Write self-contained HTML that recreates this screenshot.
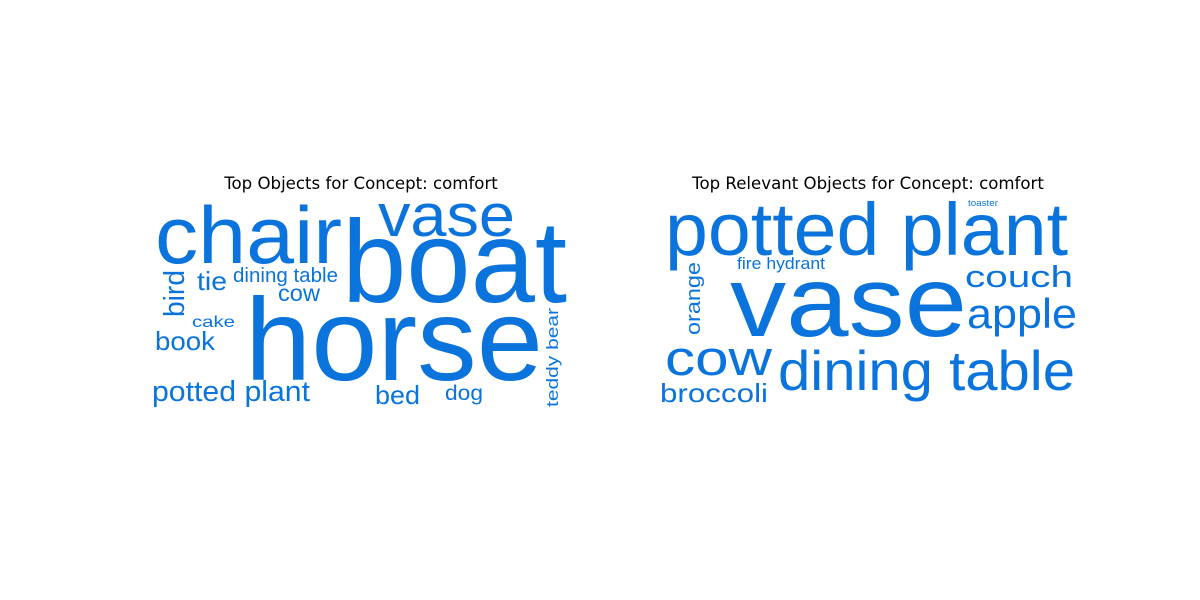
<!DOCTYPE html>
<html><head><meta charset="utf-8"><style>
body{margin:0;background:#fff}
svg{display:block}
.t{font-family:"DejaVu Sans","Liberation Sans",sans-serif;font-size:16.6px;fill:#000}
.w{font-family:"Liberation Sans",sans-serif;fill:#0a74dc}
</style></head><body>
<svg id="c" width="1200" height="600">
<text class="t" x="361" y="189" text-anchor="middle">Top Objects for Concept: comfort</text>
<text class="t" x="868" y="189" text-anchor="middle">Top Relevant Objects for Concept: comfort</text>
</svg>
<script>
// word, x, baseline y, font size, width, vertical
const leftWords=["chair","vase","boat","tie","dining table","cow","bird","cake","book","horse","teddy bear","potted plant","bed","dog"];
const leftSizes=[81,60,117,26,20,23,29,16,26,117,17,29,26,21];
const leftX=[155,378,342,197,233,278,184,192,155,245,558,152,375,445];
const leftY=[263,236,302,290,282,301,317,327,350,380,407,401,404,400];
const leftW=[187,137,225,30,105,42,47,43,60,298,99,158,45,38];
const leftV=[0,0,0,0,0,0,1,0,0,0,1,0,0,0];
const rightWords=["potted plant","toaster","fire hydrant","orange","vase","couch","apple","cow","dining table","broccoli"];
const rightSizes=[74,9,17,20,100,31,42,49,56,26];
const rightX=[665,968,737,700,730,965,967,665,778,660];
const rightY=[255,206,269,335,336,287,328,375,390,402];
const rightW=[403,30,88,73,237,108,110,107,297,108];
const rightV=[0,0,0,1,0,0,0,0,0,0];
const svg=document.getElementById('c');
function draw(words,sizes,xs,ys,ws,vs,side){
  words.forEach((w,i)=>{
    const t=document.createElementNS('http://www.w3.org/2000/svg','text');
    t.setAttribute('class','w');
    t.setAttribute('font-size',sizes[i]);
    t.setAttribute('textLength',ws[i]);
    t.setAttribute('lengthAdjust','spacingAndGlyphs');
    if(vs[i]){t.setAttribute('transform','translate('+xs[i]+','+ys[i]+') rotate(-90)');t.setAttribute('x',0);t.setAttribute('y',0);}
    else{t.setAttribute('x',xs[i]);t.setAttribute('y',ys[i]);}
    t.textContent=w;
    
    
    svg.appendChild(t);
  });
}
draw(leftWords,leftSizes,leftX,leftY,leftW,leftV,'left');
draw(rightWords,rightSizes,rightX,rightY,rightW,rightV,'right');
</script>
</body></html>
